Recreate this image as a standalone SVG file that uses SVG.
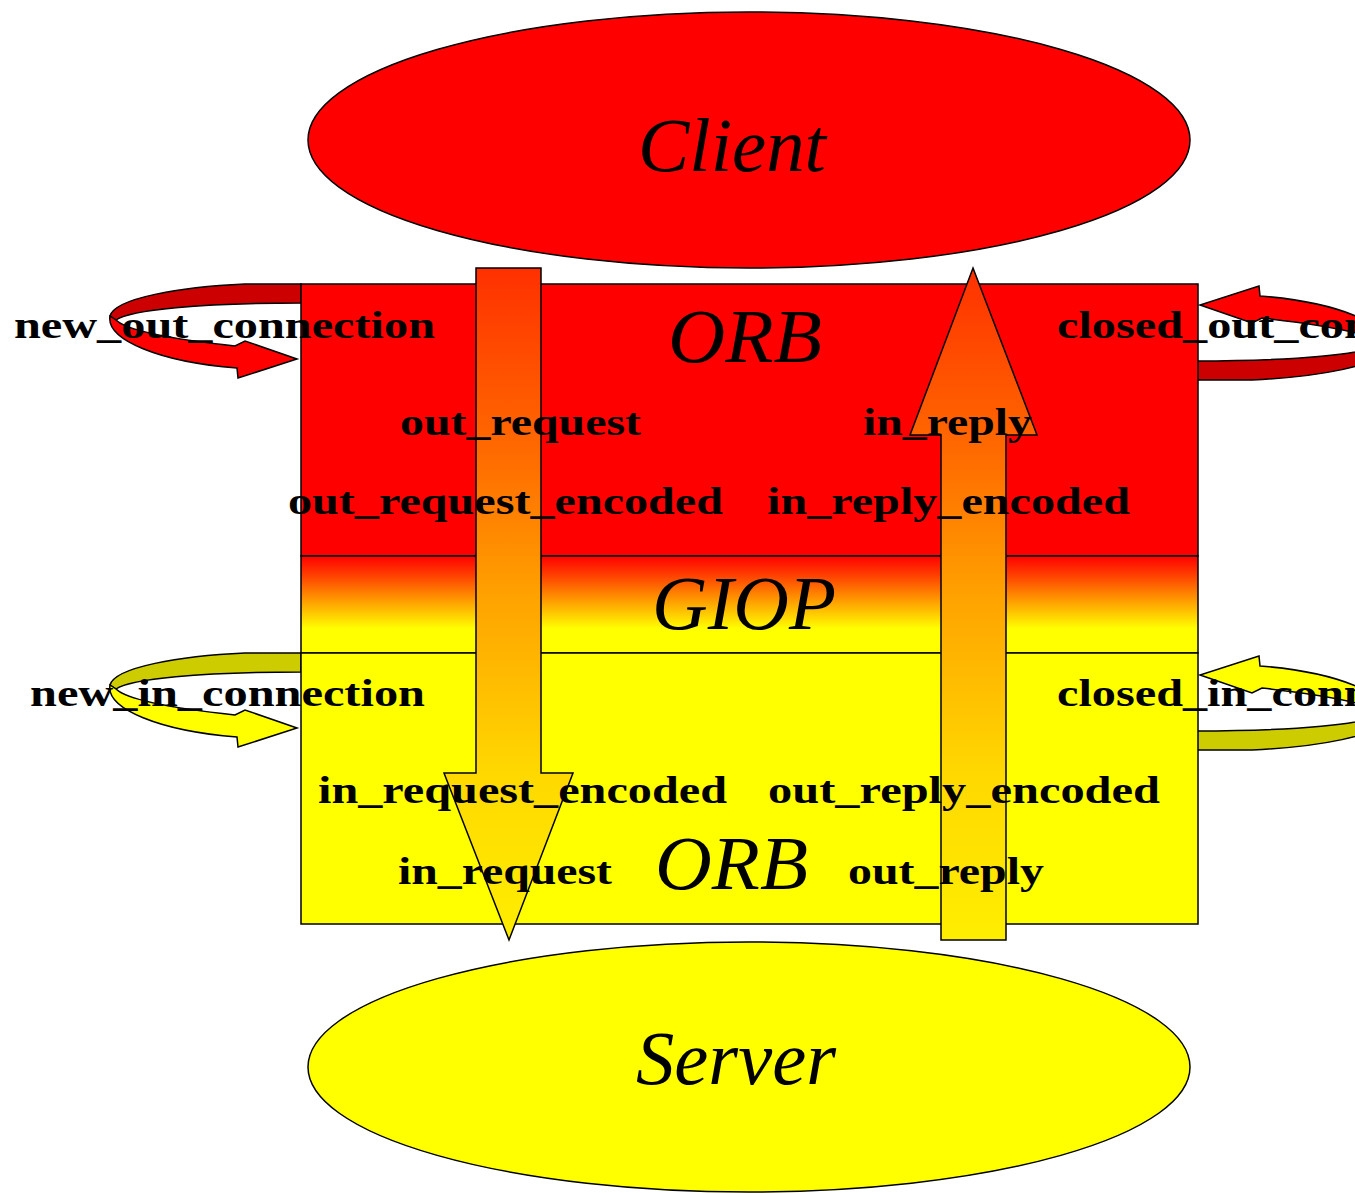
<svg xmlns="http://www.w3.org/2000/svg" xmlns:xlink="http://www.w3.org/1999/xlink" width="1355" height="1193" viewBox="0 0 1355 1193">
<style>
.lbl{font-family:"Liberation Serif","Times New Roman",serif;font-weight:bold;font-size:38px;fill:#000}
.big{font-family:"Liberation Serif","Times New Roman",serif;font-style:italic;font-size:76px;fill:#000}
.ol{stroke:#000;stroke-width:1.5}
</style>
<defs>
<linearGradient id="band" x1="0" y1="0" x2="0" y2="1">
<stop offset="0" stop-color="#ff0000"/>
<stop offset="0.2" stop-color="#ff4000"/>
<stop offset="0.5" stop-color="#ffaa00"/>
<stop offset="0.75" stop-color="#ffff00"/>
<stop offset="1" stop-color="#ffff00"/>
</linearGradient>
<linearGradient id="arr" gradientUnits="userSpaceOnUse" x1="0" y1="268" x2="0" y2="940">
<stop offset="0" stop-color="#ff3000"/>
<stop offset="0.3" stop-color="#ff7000"/>
<stop offset="0.5" stop-color="#ffa500"/>
<stop offset="0.75" stop-color="#ffd800"/>
<stop offset="1" stop-color="#ffee00"/>
</linearGradient>
<path id="loopTop" d="M301,284 L245,284 C180,287 115,298 110,316 L116,320 C130,310 200,303 301,303 Z"/>
<path id="loopBot" d="M110,316 C106,340 160,362 237,368 L238,378 L297,359 L245,341 L235,346 C180,340 128,332 116,320 Z"/>
</defs>

<g id="connectors-loops">
<g id="loop-new-out">
<use xlink:href="#loopTop" fill="#cc0000" class="ol"/>
<use xlink:href="#loopBot" fill="#ff0000" class="ol"/>
</g>
<g id="loop-closed-out" transform="rotate(180 748.5 332)">
<use xlink:href="#loopTop" fill="#cc0000" class="ol"/>
<use xlink:href="#loopBot" fill="#ff0000" class="ol"/>
</g>
<g id="loop-new-in" transform="translate(0 369)">
<use xlink:href="#loopTop" fill="#cccc00" class="ol"/>
<use xlink:href="#loopBot" fill="#ffff00" class="ol"/>
</g>
<g id="loop-closed-in" transform="translate(0 370) rotate(180 748.5 332)">
<use xlink:href="#loopTop" fill="#cccc00" class="ol"/>
<use xlink:href="#loopBot" fill="#ffff00" class="ol"/>
</g>
</g>

<g id="client">
<ellipse cx="749" cy="140" rx="441" ry="128" fill="#ff0000" class="ol"/>
<text class="big" x="638" y="171" textLength="188" lengthAdjust="spacingAndGlyphs">Client</text>
</g>

<g id="server">
<ellipse cx="749" cy="1067" rx="441" ry="125" fill="#ffff00" class="ol"/>
<text class="big" x="636" y="1084" textLength="200" lengthAdjust="spacingAndGlyphs">Server</text>
</g>

<g id="orb-client">
<rect x="301" y="284" width="897" height="272" fill="#ff0000" class="ol"/>
</g>
<g id="giop">
<rect x="301" y="556" width="897" height="97" fill="url(#band)" class="ol"/>
</g>
<g id="orb-server">
<rect x="301" y="653" width="897" height="271" fill="#ffff00" class="ol"/>
</g>

<g id="connectors">
<polygon points="476,268 541,268 541,773 573,773 509,940 444,773 476,773" fill="url(#arr)" class="ol"/>
<polygon points="973,268 1037,435 1006,435 1006,940 941,940 941,435 910,435" fill="url(#arr)" class="ol"/>
</g>

<g id="labels">
<text class="big" x="668" y="362" textLength="154" lengthAdjust="spacingAndGlyphs">ORB</text>
<text class="big" x="652" y="629" textLength="184" lengthAdjust="spacingAndGlyphs">GIOP</text>
<text class="big" x="655" y="889" textLength="153" lengthAdjust="spacingAndGlyphs">ORB</text>
<text class="lbl" x="14" y="338" textLength="421" lengthAdjust="spacingAndGlyphs">new_out_connection</text>
<text class="lbl" x="1057" y="338" textLength="464" lengthAdjust="spacingAndGlyphs">closed_out_connection</text>
<text class="lbl" x="30" y="706" textLength="395" lengthAdjust="spacingAndGlyphs">new_in_connection</text>
<text class="lbl" x="1057" y="706" textLength="437" lengthAdjust="spacingAndGlyphs">closed_in_connection</text>
<text class="lbl" x="400" y="435" textLength="241" lengthAdjust="spacingAndGlyphs">out_request</text>
<text class="lbl" x="863" y="435" textLength="169" lengthAdjust="spacingAndGlyphs">in_reply</text>
<text class="lbl" x="288" y="514" textLength="435" lengthAdjust="spacingAndGlyphs">out_request_encoded</text>
<text class="lbl" x="767" y="514" textLength="363" lengthAdjust="spacingAndGlyphs">in_reply_encoded</text>
<text class="lbl" x="318" y="803" textLength="409" lengthAdjust="spacingAndGlyphs">in_request_encoded</text>
<text class="lbl" x="768" y="803" textLength="392" lengthAdjust="spacingAndGlyphs">out_reply_encoded</text>
<text class="lbl" x="398" y="884" textLength="214" lengthAdjust="spacingAndGlyphs">in_request</text>
<text class="lbl" x="848" y="884" textLength="196" lengthAdjust="spacingAndGlyphs">out_reply</text>
</g>
</svg>
